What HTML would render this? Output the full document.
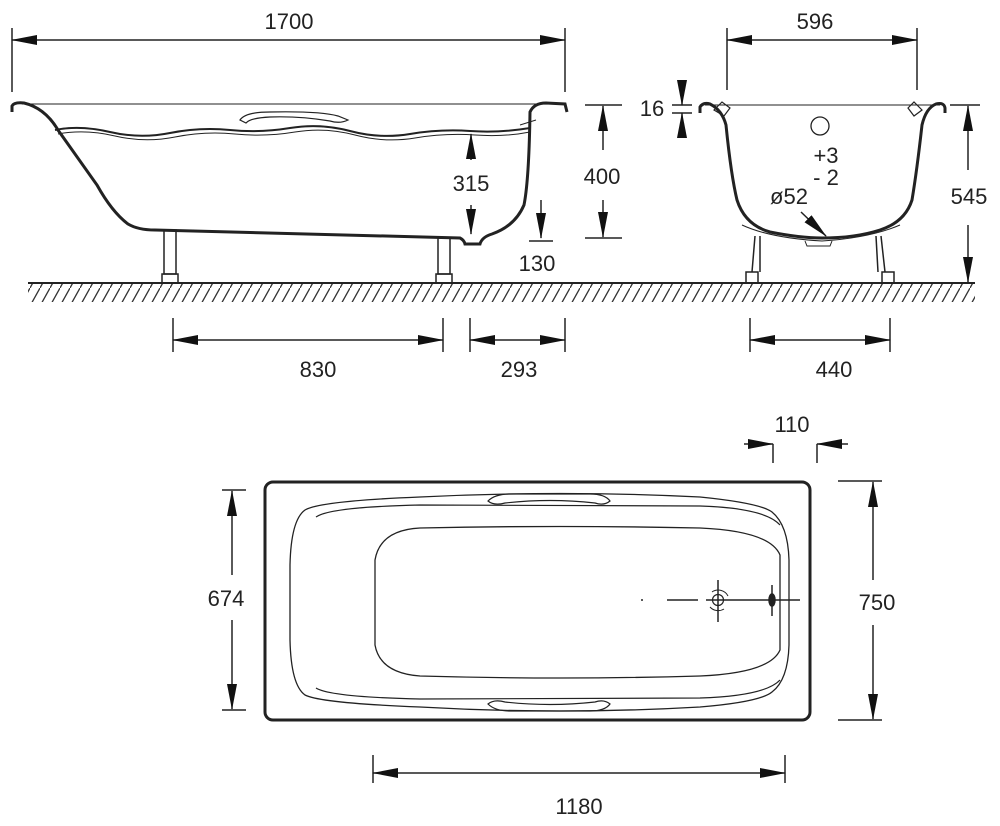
<!DOCTYPE html>
<html><head><meta charset="utf-8"><style>
html,body{margin:0;padding:0;background:#fff}
svg{display:block}
text{font-family:"Liberation Sans",sans-serif;font-size:22px;fill:#222}
</style></head><body>
<svg width="1000" height="826" viewBox="0 0 1000 826" xmlns="http://www.w3.org/2000/svg">
<defs>
<marker id="a" markerWidth="26" markerHeight="10" refX="25" refY="5" orient="auto-start-reverse" markerUnits="userSpaceOnUse"><path d="M0,0 L26,5 L0,10 Z" fill="#111"/></marker>
<pattern id="h" width="10" height="18" patternUnits="userSpaceOnUse"><path d="M10,0 L0,18" stroke="#333" stroke-width="1.3"/></pattern>
</defs>
<g stroke="#222" fill="none" stroke-width="1.5">
<line x1="12" y1="28" x2="12" y2="92"/><line x1="565" y1="28" x2="565" y2="92"/>
<line x1="12" y1="40" x2="565" y2="40" marker-start="url(#a)" marker-end="url(#a)"/>
<line x1="22" y1="104" x2="565" y2="104" stroke-width="1"/>
<path d="M12,112 L12,106 Q14,102 24,103 Q45,108 58,130 L97,185 Q112,212 128,224 Q138,230 155,230 L460,238 Q464,240 465,244 L480,244 Q482,237 492,234 Q515,226 524,205 Q529,180 530,112 Q534,103 546,103 L565,104 L567,112" stroke-width="3"/>
<path d="M55,130 Q80,125 110,132 T170,133 T230,130 T290,128 T350,131 T410,134 T470,131 T530,128" stroke-width="2"/>
<path d="M58,134 Q85,129 115,136 T175,137 T235,134 T295,132 T355,135 T415,138 T475,135 T530,132" stroke-width="1"/>
<path d="M240,120 Q245,112 270,112 Q320,111 338,116 L348,120 Q340,124 330,121 Q300,116 270,117 Q250,118 246,123 Z" stroke-width="1.2"/>
<line x1="520" y1="125" x2="536" y2="120" stroke-width="1"/>
<rect x="164" y="230" width="12" height="44"/><rect x="162" y="274" width="16" height="9"/>
<rect x="438" y="238" width="12" height="36"/><rect x="436" y="274" width="16" height="9"/>
<line x1="28" y1="283" x2="975" y2="283" stroke-width="2"/>
</g>
<rect x="28" y="284" width="947" height="18" fill="url(#h)"/>
<g stroke="#222" fill="none" stroke-width="1.5">
<line x1="471" y1="160" x2="471" y2="134" marker-end="url(#a)"/>
<line x1="471" y1="205" x2="471" y2="234" marker-end="url(#a)"/>
<line x1="585" y1="105" x2="622" y2="105"/><line x1="585" y1="238" x2="622" y2="238"/>
<line x1="603" y1="150" x2="603" y2="106" marker-end="url(#a)"/>
<line x1="603" y1="200" x2="603" y2="237" marker-end="url(#a)"/>
<line x1="541" y1="200" x2="541" y2="238" marker-end="url(#a)"/>
<line x1="529" y1="241" x2="553" y2="241"/>
<line x1="173" y1="318" x2="173" y2="352"/><line x1="443" y1="318" x2="443" y2="352"/>
<line x1="173" y1="340" x2="443" y2="340" marker-start="url(#a)" marker-end="url(#a)"/>
<line x1="470" y1="318" x2="470" y2="352"/><line x1="565" y1="318" x2="565" y2="352"/>
<line x1="470" y1="340" x2="565" y2="340" marker-start="url(#a)" marker-end="url(#a)"/>
<line x1="727" y1="28" x2="727" y2="90"/><line x1="917" y1="28" x2="917" y2="90"/>
<line x1="727" y1="40" x2="917" y2="40" marker-start="url(#a)" marker-end="url(#a)"/>
<line x1="705" y1="105" x2="940" y2="105" stroke-width="1"/>
<path d="M700,113 L700,107 Q703,102 710,104 Q722,110 726,125 Q731,175 737,200 Q745,225 770,232 Q800,238 822,238 Q855,238 880,230 Q905,222 912,200 Q917,170 922,125 Q926,108 936,104 Q944,102 945,108 L945,113" stroke-width="3"/>
<path d="M742,225 Q770,238 822,241 Q870,238 900,225" stroke-width="1"/>
<path d="M805,241 L807,246 L830,246 L832,241" stroke-width="1"/>
<path d="M714,110 L722,102 L730,108 L724,116 Z" stroke-width="1.2"/>
<path d="M922,110 L914,102 L908,108 L914,116 Z" stroke-width="1.2"/>
<circle cx="820" cy="126" r="9" stroke-width="1.3"/>
<line x1="801" y1="212" x2="826" y2="236" marker-end="url(#a)"/>
<path d="M755,236 L752,272 M760,236 L760,272 M881,236 L885,272 M876,236 L878,272"/>
<rect x="746" y="272" width="12" height="11"/><rect x="882" y="272" width="12" height="11"/>
<line x1="672" y1="105" x2="692" y2="105"/><line x1="672" y1="113" x2="692" y2="113"/>
<line x1="682" y1="82" x2="682" y2="105" marker-end="url(#a)"/>
<line x1="682" y1="135" x2="682" y2="113" marker-end="url(#a)"/>
<line x1="950" y1="105" x2="980" y2="105"/>
<line x1="968" y1="170" x2="968" y2="106" marker-end="url(#a)"/>
<line x1="968" y1="225" x2="968" y2="282" marker-end="url(#a)"/>
<line x1="750" y1="318" x2="750" y2="352"/><line x1="890" y1="318" x2="890" y2="352"/>
<line x1="750" y1="340" x2="890" y2="340" marker-start="url(#a)" marker-end="url(#a)"/>
<rect x="265" y="482" width="545" height="238" rx="8" stroke-width="3"/>
<path d="M420,497 Q560,490 700,497 Q760,503 772,512 Q788,525 789,560 L789,645 Q788,680 772,692 Q760,702 700,707 Q560,715 420,707 Q320,703 305,695 Q291,685 290,640 L290,565 Q291,520 305,510 Q320,501 420,497 Z" stroke-width="1.3"/>
<path d="M316,517 Q330,507 420,505 L700,506 Q765,508 780,525" stroke-width="1.2"/>
<path d="M316,688 Q330,697 420,699 L700,698 Q765,696 780,680" stroke-width="1.2"/>
<path d="M420,528 Q560,525 700,528 Q770,531 780,555 L780,650 Q770,673 700,676 Q560,680 420,676 Q380,673 375,645 L375,560 Q380,530 420,528 Z" stroke-width="1.3"/>
<path d="M488,501 Q495,494 510,494 L590,494 Q605,494 610,501 Q604,506 595,503 Q550,498 505,503 Q494,506 488,501 Z" stroke-width="1.2"/>
<path d="M488,704 Q495,711 510,711 L590,711 Q605,711 610,704 Q604,699 595,702 Q550,707 505,702 Q494,699 488,704 Z" stroke-width="1.2"/>
<line x1="641" y1="600" x2="643" y2="600"/>
<line x1="667" y1="600" x2="698" y2="600"/>
<line x1="706" y1="600" x2="800" y2="600"/>
<line x1="718" y1="580" x2="718" y2="622"/>
<circle cx="718" cy="600" r="5.5" stroke-width="1.2"/>
<path d="M712,592 A11,11 0 0 1 728,596 M724,609 A11,11 0 0 1 710,607" stroke-width="1"/>
<line x1="772" y1="585" x2="772" y2="616"/>
<ellipse cx="772" cy="600" rx="3" ry="6" fill="#222"/>
<line x1="222" y1="490" x2="246" y2="490"/><line x1="222" y1="710" x2="246" y2="710"/>
<line x1="232" y1="575" x2="232" y2="491" marker-end="url(#a)"/>
<line x1="232" y1="620" x2="232" y2="709" marker-end="url(#a)"/>
<line x1="838" y1="481" x2="882" y2="481"/><line x1="838" y1="720" x2="882" y2="720"/>
<line x1="873" y1="580" x2="873" y2="482" marker-end="url(#a)"/>
<line x1="873" y1="625" x2="873" y2="719" marker-end="url(#a)"/>
<line x1="744" y1="444" x2="773" y2="444" marker-end="url(#a)"/>
<line x1="773" y1="444" x2="773" y2="463"/>
<line x1="848" y1="444" x2="817" y2="444" marker-end="url(#a)"/>
<line x1="817" y1="444" x2="817" y2="463"/>
<line x1="373" y1="755" x2="373" y2="783"/><line x1="785" y1="755" x2="785" y2="783"/>
<line x1="373" y1="773" x2="785" y2="773" marker-start="url(#a)" marker-end="url(#a)"/>
</g>
<g text-anchor="middle">
<text x="289" y="29">1700</text>
<text x="471" y="191">315</text>
<text x="602" y="184">400</text>
<text x="537" y="271">130</text>
<text x="318" y="377">830</text>
<text x="519" y="377">293</text>
<text x="815" y="29">596</text>
<text x="652" y="116">16</text>
<text x="826" y="163">+3</text>
<text x="826" y="185">- 2</text>
<text x="789" y="204">ø52</text>
<text x="969" y="204">545</text>
<text x="834" y="377">440</text>
<text x="792" y="432">110</text>
<text x="226" y="606">674</text>
<text x="877" y="610">750</text>
<text x="579" y="814">1180</text>
</g>
</svg>
</body></html>
